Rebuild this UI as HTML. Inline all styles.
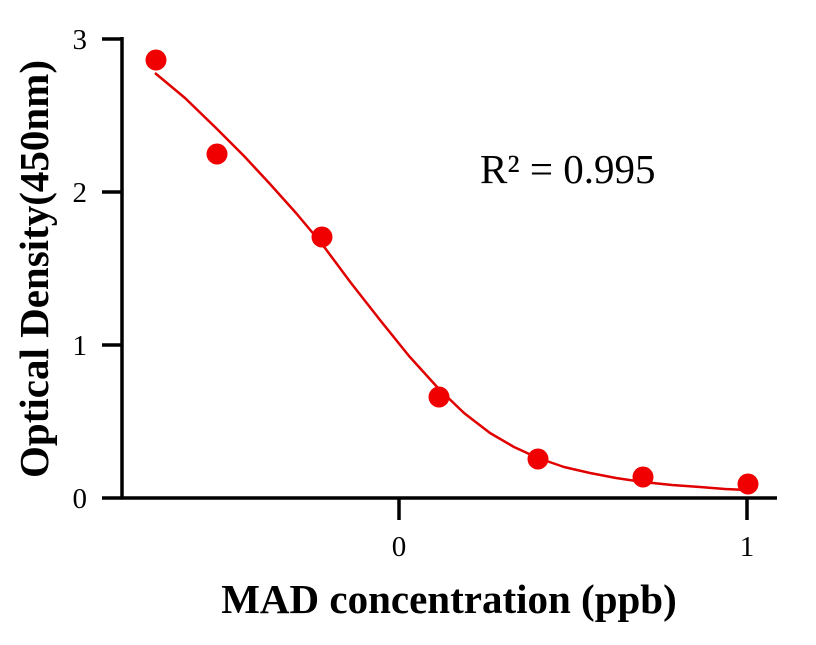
<!DOCTYPE html>
<html><head><style>body{margin:0;background:#fff}</style></head><body>
<svg width="816" height="640" xmlns="http://www.w3.org/2000/svg" font-family="Liberation Serif, serif">
<rect width="816" height="640" fill="#fff"/>
<g stroke="#000" stroke-width="3.5" fill="none">
<line x1="122" y1="37" x2="122" y2="499"/>
<line x1="121" y1="498" x2="777" y2="498"/>
<line x1="102" y1="39" x2="122" y2="39"/>
<line x1="102" y1="192" x2="122" y2="192"/>
<line x1="102" y1="345" x2="122" y2="345"/>
<line x1="102" y1="498" x2="122" y2="498"/>
<line x1="399" y1="498" x2="399" y2="520"/>
<line x1="747" y1="498" x2="747" y2="520"/>
</g>
<g font-size="29" text-anchor="end">
<text x="87" y="49">3</text><text x="87" y="202">2</text><text x="87" y="355">1</text><text x="87" y="508">0</text>
</g>
<g font-size="29" text-anchor="middle">
<text x="399" y="556">0</text><text x="747" y="556">1</text>
</g>
<text x="449" y="613" font-size="41" font-weight="bold" text-anchor="middle">MAD concentration (ppb)</text>
<text transform="translate(48,269) rotate(-90)" font-size="41" font-weight="bold" text-anchor="middle">Optical Density(450nm)</text>
<text x="480" y="183" font-size="41">R² = 0.995</text>
<polyline fill="none" stroke="#e00000" stroke-width="2.5" stroke-linejoin="round" points="155,73 185,98 216,128 244,156 270,184 296,213 322,244 351,283 380,320 409,356 438,388 464,413 490,433 514,447 538,458 564,467 590,473 616,478 643,482 672,485 700,487 725,489 747,490"/>
<g fill="#f00000">
<circle cx="156" cy="60" r="10.5"/><circle cx="217" cy="154" r="10.5"/><circle cx="322" cy="237" r="10.5"/><circle cx="439" cy="397" r="10.5"/><circle cx="538" cy="459" r="10.5"/><circle cx="643" cy="477" r="10.5"/><circle cx="748" cy="484" r="10.5"/>
</g>
</svg>
</body></html>
